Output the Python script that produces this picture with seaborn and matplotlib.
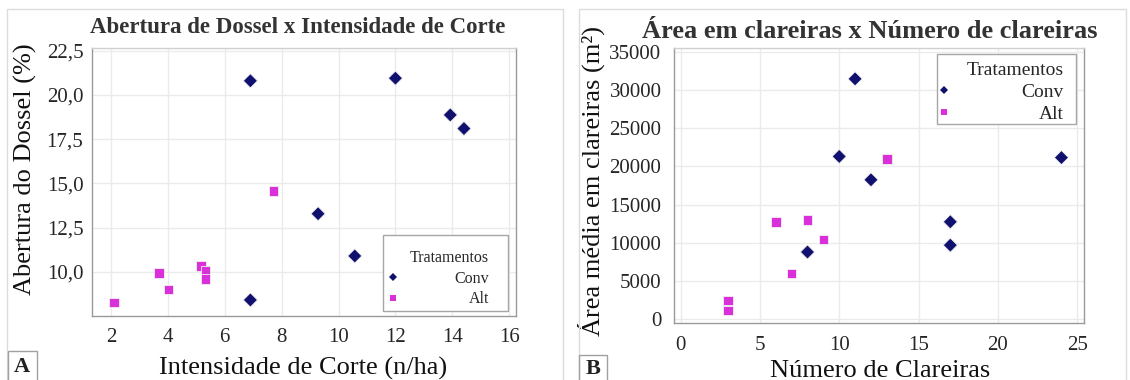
import matplotlib
matplotlib.use("Agg")
import numpy as np
import pandas as pd
import seaborn as sns
import matplotlib.pyplot as plt
from matplotlib.patches import Rectangle

# painel A - abertura de dossel x intensidade de corte
conv_intensidade = [6.9, 12.0, 13.93, 14.41, 9.28, 10.57, 6.9]
conv_abertura = [20.8, 20.95, 18.87, 18.1, 13.28, 10.89, 8.4]
alt_intensidade = [2.1, 3.68, 4.02, 5.16, 5.32, 5.32, 7.71]
alt_abertura = [8.25, 9.94, 9.0, 10.32, 10.06, 9.57, 14.58]

# painel B - area media x numero de clareiras
conv_num = [11, 10, 12, 8, 17, 17, 24]
conv_area = [31450, 21300, 18250, 8800, 12750, 9700, 21150]
alt_num = [3, 3, 6, 8, 7, 9, 13]
alt_area = [2450, 1150, 12750, 13000, 6000, 10450, 21000]

tratamentos = ["Conv", "Alt"]
cores = {"Conv": "#10106e", "Alt": "#d930d9"}
marcadores = {"Conv": "D", "Alt": "s"}
tamanhos = {"Conv": 52, "Alt": 48}

xticks_a = [2, 4, 6, 8, 10, 12, 14, 16]
yticks_a = [10, 12.5, 15, 17.5, 20, 22.5]
yrotulos_a = ["10,0", "12,5", "15,0", "17,5", "20,0", "22,5"]
xticks_b = [0, 5, 10, 15, 20, 25]
yticks_b = [0, 5000, 10000, 15000, 20000, 25000, 30000, 35000]
yrotulos_b = ["0", "5000", "10000", "15000", "20000", "25000", "30000", "35000"]

df_a = pd.DataFrame({"x": conv_intensidade + alt_intensidade,
                     "y": conv_abertura + alt_abertura,
                     "Tratamentos": ["Conv"] * len(conv_intensidade) + ["Alt"] * len(alt_intensidade)})
df_b = pd.DataFrame({"x": conv_num + alt_num,
                     "y": conv_area + alt_area,
                     "Tratamentos": ["Conv"] * len(conv_num) + ["Alt"] * len(alt_num)})

sns.set_style("whitegrid", {"grid.color": "#ebebeb", "axes.edgecolor": "#999999"})
plt.rcParams["font.family"] = ["Liberation Serif", "DejaVu Serif"]

W, H = 1130, 380


def caixa(l, t, r, b):
    return [l / W, 1 - b / H, (r - l) / W, (b - t) / H]


fig = plt.figure(figsize=(W / 100, H / 100), dpi=100)

# molduras dos paineis
for l, r in [(7.2, 563), (578.7, 1126)]:
    fig.add_artist(Rectangle((l / W, -0.01), (r - l) / W, 1.01 - 9.3 / H, transform=fig.transFigure,
                             fill=False, ec="#dcdcdc", lw=1))

ax1 = fig.add_axes(caixa(91.7, 48.3, 516, 315.7))
ax2 = fig.add_axes(caixa(674, 48.3, 1084.3, 323.3))

for ax, df in [(ax1, df_a), (ax2, df_b)]:
    sns.scatterplot(data=df, x="x", y="y", hue="Tratamentos", style="Tratamentos", size="Tratamentos",
                    hue_order=tratamentos, style_order=tratamentos, size_order=tratamentos,
                    palette=cores, markers=marcadores, sizes=tamanhos,
                    edgecolor="#f0f0f0", linewidth=0.6, ax=ax, zorder=3)
    for s in ax.spines.values():
        s.set_color("#9a9a9a")
        s.set_linewidth(1)
    ax.spines["top"].set_color("#d0d0d0")
    ax.grid(True, color="#ebebeb", lw=1)

ax1.set_xlim(1.32, 16.24)
ax1.set_ylim(7.51, 22.64)
ax1.set_xticks(xticks_a, [str(v) for v in xticks_a])
ax1.set_yticks(yticks_a, yrotulos_a)
ax1.tick_params(axis="x", labelsize=15, length=4, width=1, color="#9a9a9a", pad=5)
ax1.tick_params(axis="y", labelsize=15, length=4, width=1, color="#9a9a9a", pad=2)

ax2.set_xlim(-0.41, 25.44)
ax2.set_ylim(-523, 35445)
ax2.set_xticks(xticks_b, [str(v) for v in xticks_b])
ax2.set_yticks(yticks_b, yrotulos_b)
ax2.tick_params(axis="x", labelsize=15, length=4, width=1, color="#9a9a9a", pad=5)
ax2.tick_params(axis="y", labelsize=15, length=4, width=1, color="#9a9a9a", pad=5)

# rotulos dos eixos
ax1.set_xlabel("Intensidade de Corte (n/ha)", fontsize=19, color="#111111")
ax1.xaxis.set_label_coords(0.498, -0.2218)
ax1.xaxis.label.set_verticalalignment("baseline")
ax1.set_ylabel("Abertura do Dossel (%)", fontsize=19, color="#111111")
ax1.yaxis.set_label_coords(-0.1567, 0.5486)
ax1.yaxis.label.set_verticalalignment("center")

ax2.set_xlabel("Número de Clareiras", fontsize=19, color="#111111")
ax2.xaxis.set_label_coords(0.502, -0.1942)
ax2.xaxis.label.set_verticalalignment("baseline")
ax2.set_ylabel("Área média em clareiras (m²)", fontsize=19, color="#111111")
ax2.yaxis.set_label_coords(-0.2023, 0.5182)
ax2.yaxis.label.set_verticalalignment("center")

# titulos
fig.text(298 / W, 1 - 32.7 / H, "Abertura de Dossel x Intensidade de Corte", ha="center", va="baseline",
         fontsize=16.5, fontweight="bold", color="#333333")
fig.text(870 / W, 1 - 37.5 / H, "Área em clareiras x Número de clareiras", ha="center", va="baseline",
         fontsize=19, fontweight="bold", color="#333333")

# letras dos paineis
for l, t, r, letra in [(7.9, 350.7, 36.7, "A"), (578.7, 355, 607.4, "B")]:
    fig.add_artist(Rectangle((l / W, -0.01), (r - l) / W, 1.01 - t / H, transform=fig.transFigure,
                             fill=False, ec="#a0a0a0", lw=1))
    fig.text((l + r) / 2 / W, 1 - (t + 383) / 2 / H, letra, ha="center", va="center",
             fontsize=16, fontweight="bold", color="#222222")


def legenda(ax, fs, bpad, hlen, tpad, lspace, loc, anchor, ms):
    velha = ax.get_legend()
    handles = velha.legend_handles
    labels = [t.get_text() for t in velha.get_texts()]
    velha.remove()
    leg = ax.legend(handles, labels, title="Tratamentos", loc=loc, bbox_to_anchor=anchor,
                    borderaxespad=0, fontsize=fs, title_fontsize=fs, alignment="right",
                    frameon=True, fancybox=False, framealpha=1, edgecolor="#a6a6a6",
                    borderpad=bpad, handlelength=hlen, handletextpad=tpad, labelspacing=lspace)
    leg.get_frame().set_linewidth(1)
    for h, m in zip(leg.legend_handles, ms):
        h.set_markersize(m)
        h.set_markeredgewidth(0)
    return leg


leg1 = legenda(ax1, 11.5, 0.62, 0.0, 4.46, 0.27, "lower right", (0.9819, 0.0176), [4.0, 4.6])
leg2 = legenda(ax2, 14, 0.24, 0.28, 4.24, 0.21, "upper right", (0.9798, 0.9782), [4.0, 4.6])

# textos da legenda alinhados a direita
fig.canvas.draw()
rend = fig.canvas.get_renderer()
for leg, dx, dy in [(leg1, 9.4, 6), (leg2, 7.4, 3.5)]:
    textos = leg.get_texts()
    larg = [t.get_window_extent(rend).width for t in textos]
    for t, w in zip(textos, larg):
        t.set_x(max(larg) - w - dx)
        t.set_y(-dy)
    leg.get_title().set_x(-dx)
    leg.get_title().set_y(-dy)
    for h in leg.legend_handles:
        h.set_ydata(np.asarray(h.get_ydata()) - dy * 0.72)

fig.savefig("out.png", dpi=100)
